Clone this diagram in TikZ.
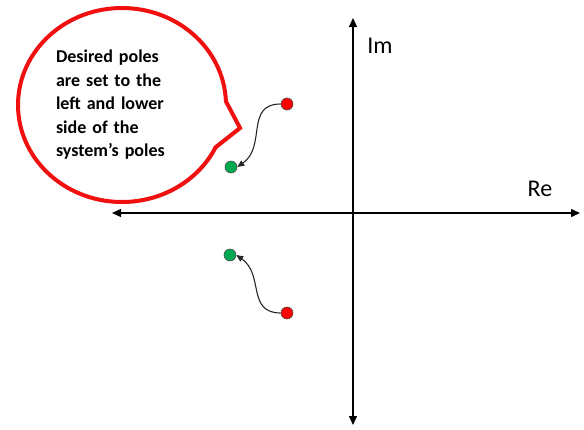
\documentclass[tikz,border=0pt]{standalone}
\usepackage{fontspec}
\setmainfont{Carlito}
\usepackage{tikz}
\usetikzlibrary{arrows.meta,shapes.callouts,shadows}
\definecolor{polered}{HTML}{FF0000}
\definecolor{polegreen}{HTML}{00A850}
\definecolor{bubblered}{HTML}{F01010}

\begin{document}
\begin{tikzpicture}[
  x=1pt,y=1pt,
  every node/.style={font=\fontsize{24}{28}\selectfont},
  axis/.style={-{Triangle[length=9pt,width=8pt]},line width=1.4pt},
  move/.style={-{Triangle[length=7pt,width=6pt]},line width=1.1pt,black!85},
  pole/.style={circle,draw=black!70,line width=0.6pt,minimum size=12pt,inner sep=0pt},
  bubble/.style={ellipse callout,draw=bubblered,line width=4pt,fill=white,
                 minimum width=208pt,minimum height=194pt,inner sep=2pt,
                 text width=132pt,align=left,callout pointer arc=28,
                 font=\fontsize{18}{23.5}\selectfont\bfseries,
                 drop shadow={opacity=0.25,shadow xshift=1.5pt,shadow yshift=-2pt}}
]
\useasboundingbox (0,0) rectangle (584,-429);

% complex plane
\coordinate (origin) at (353,-213);
\coordinate (reL) at (112,-213);
\coordinate (reR) at (580,-213);
\coordinate (imT) at (353,-18);
\coordinate (imB) at (353,-425);
\draw[axis] (origin) -- (reL);
\draw[axis] (origin) -- (reR);
\draw[axis] (origin) -- (imT);
\draw[axis] (origin) -- (imB);
\node (im) at (380,-46) {Im};
\node (re) at (540,-189) {Re};

% system poles and desired poles
\node[pole,fill=polered] (sys1) at (287,-104) {};
\node[pole,fill=polegreen] (des1) at (231,-167) {};
\node[pole,fill=polegreen] (des2) at (230,-255) {};
\node[pole,fill=polered] (sys2) at (287,-313) {};
\draw[move] (sys1.west) to[out=180,in=35,looseness=1.2] (des1.east);
\draw[move] (sys2.west) to[out=180,in=-35,looseness=1.2] (des2.east);

% callout
\node[bubble,callout absolute pointer={(240,-128)}] (note) at (122,-105)
  {Desired poles\\are set to the\\left and lower\\side of the\\system’s poles};
\end{tikzpicture}
\end{document}
